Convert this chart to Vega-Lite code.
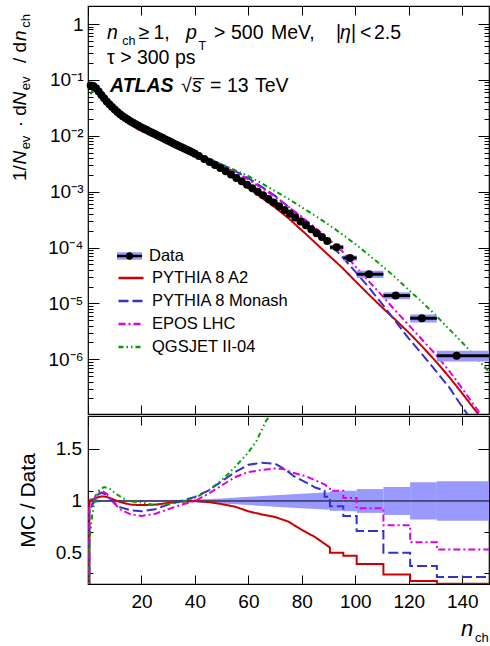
{
"$schema": "https://vega.github.io/schema/vega-lite/v6.json",
"background": "white",
"padding": {"left": 10, "top": 5, "right": 0, "bottom": 0},
"spacing": 0,
"config": {
  "font": "Liberation Sans",
  "view": {"stroke": "black", "strokeWidth": 1.2},
  "axis": {"labelFont": "Liberation Sans", "labelColor": "black", "titleColor": "black", "titleFont": "Liberation Sans", "domain": false, "ticks": false, "gridColor": "black", "gridOpacity": 1, "gridWidth": 1, "labelOverlap": false, "labelFlush": false, "labelBound": false},
  "legend": {"labelFont": "Liberation Sans", "labelColor": "black"}
},
"datasets": {
  "pts": [{"n":1,"y":0.0794},{"n":2,"y":0.0776},{"n":3,"y":0.0708},{"n":4,"y":0.0617},{"n":5,"y":0.0537},{"n":6,"y":0.0468},{"n":7,"y":0.0412},{"n":8,"y":0.0367},{"n":9,"y":0.0327},{"n":10,"y":0.0295},{"n":11,"y":0.0266},{"n":12,"y":0.0243},{"n":13,"y":0.0224},{"n":14,"y":0.0207},{"n":15,"y":0.0193},{"n":16,"y":0.018},{"n":17,"y":0.01687},{"n":18,"y":0.01585},{"n":19,"y":0.01496},{"n":20,"y":0.01413},{"n":21,"y":0.01337},{"n":22,"y":0.01265},{"n":23,"y":0.01197},{"n":24,"y":0.01132},{"n":25,"y":0.01072},{"n":26,"y":0.01014},{"n":27,"y":0.00959},{"n":28,"y":0.00908},{"n":29,"y":0.00859},{"n":30,"y":0.00813},{"n":31,"y":0.00771},{"n":32,"y":0.00731},{"n":33,"y":0.00693},{"n":34,"y":0.00658},{"n":35,"y":0.00624},{"n":36,"y":0.00592},{"n":37,"y":0.00561},{"n":38,"y":0.00532},{"n":39,"y":0.00505},{"n":40,"y":0.00479},{"n":41.5,"y":0.004358},{"n":43.5,"y":0.00385},{"n":45.5,"y":0.0034},{"n":47.5,"y":0.003003},{"n":49.5,"y":0.002652},{"n":51.5,"y":0.002317},{"n":53.5,"y":0.002018},{"n":55.5,"y":0.001758},{"n":57.5,"y":0.001531},{"n":59.5,"y":0.001334},{"n":61.5,"y":0.001153},{"n":63.5,"y":0.000995},{"n":65.5,"y":0.000859},{"n":67.5,"y":0.000741},{"n":69.5,"y":0.00064},{"n":71.5,"y":0.000548},{"n":73.5,"y":0.000469},{"n":75.5,"y":0.000401},{"n":77.5,"y":0.000343},{"n":79.5,"y":0.000293},{"n":81.5,"y":0.0002497},{"n":83.5,"y":0.0002126},{"n":85.5,"y":0.0001809},{"n":87.5,"y":0.000154},{"n":89.5,"y":0.0001311},{"n":93,"y":0.0001012},{"n":98,"y":0.0000652},{"n":105.1,"y":0.0000333},{"n":115.1,"y":0.0000138},{"n":124.9,"y":0.00000543},{"n":137.9,"y":0.00000116}],
  "wide": [{"n":93,"lo":90.5,"hi":95.5,"y":0.0001012,"ylo":0.000091,"yhi":0.000111,"rlo":0.905,"rhi":1.095},{"n":98,"lo":95.5,"hi":100.5,"y":0.0000652,"ylo":0.000058,"yhi":0.000072,"rlo":0.9,"rhi":1.1},{"n":105.1,"lo":100.5,"hi":110.5,"y":0.0000333,"ylo":0.0000285,"yhi":0.0000385,"rlo":0.885,"rhi":1.115},{"n":115.1,"lo":110.5,"hi":120.5,"y":0.0000138,"ylo":0.0000119,"yhi":0.0000158,"rlo":0.865,"rhi":1.135},{"n":124.9,"lo":120.5,"hi":130.5,"y":0.00000543,"ylo":0.00000455,"yhi":0.00000635,"rlo":0.82,"rhi":1.18},{"n":137.9,"lo":130.5,"hi":150.5,"y":0.00000116,"ylo":0.00000091,"yhi":0.00000142,"rlo":0.81,"rhi":1.19}],
  "band": [{"n":0.5,"lo":0.97,"hi":1.03},{"n":2.5,"lo":0.975,"hi":1.025},{"n":3.5,"lo":0.985,"hi":1.015},{"n":5,"lo":0.99,"hi":1.01},{"n":30,"lo":0.99,"hi":1.01},{"n":40,"lo":0.985,"hi":1.015},{"n":50,"lo":0.975,"hi":1.025},{"n":60,"lo":0.96,"hi":1.04},{"n":70,"lo":0.945,"hi":1.055},{"n":80,"lo":0.93,"hi":1.07},{"n":90.5,"lo":0.915,"hi":1.085}],
  "mc": [
    {"g":"PYTHIA 8 A2","n":1,"y":0.0794},{"g":"PYTHIA 8 A2","n":2,"y":0.0786},{"g":"PYTHIA 8 A2","n":4,"y":0.0642},{"g":"PYTHIA 8 A2","n":6,"y":0.0489},{"g":"PYTHIA 8 A2","n":10,"y":0.0296},{"g":"PYTHIA 8 A2","n":15,"y":0.0187},{"g":"PYTHIA 8 A2","n":20,"y":0.01356},{"g":"PYTHIA 8 A2","n":30,"y":0.00797},{"g":"PYTHIA 8 A2","n":40,"y":0.00479},{"g":"PYTHIA 8 A2","n":50,"y":0.00249},{"g":"PYTHIA 8 A2","n":55,"y":0.00172},{"g":"PYTHIA 8 A2","n":60,"y":0.00116},{"g":"PYTHIA 8 A2","n":65,"y":0.000775},{"g":"PYTHIA 8 A2","n":70,"y":0.000521},{"g":"PYTHIA 8 A2","n":75,"y":0.000334},{"g":"PYTHIA 8 A2","n":80,"y":0.000203},{"g":"PYTHIA 8 A2","n":85,"y":0.000122},{"g":"PYTHIA 8 A2","n":90,"y":0.000073},{"g":"PYTHIA 8 A2","n":95,"y":0.000044},{"g":"PYTHIA 8 A2","n":100,"y":0.0000251},{"g":"PYTHIA 8 A2","n":105,"y":0.0000145},{"g":"PYTHIA 8 A2","n":110,"y":0.0000085},{"g":"PYTHIA 8 A2","n":115,"y":0.0000051},{"g":"PYTHIA 8 A2","n":120,"y":0.000003},{"g":"PYTHIA 8 A2","n":125,"y":0.0000017},{"g":"PYTHIA 8 A2","n":130,"y":0.00000093},{"g":"PYTHIA 8 A2","n":135,"y":0.00000049},{"g":"PYTHIA 8 A2","n":140,"y":0.000000245},{"g":"PYTHIA 8 A2","n":145,"y":0.00000012},{"g":"PYTHIA 8 A2","n":150,"y":0.000000059},
    {"g":"PYTHIA 8 Monash","n":1,"y":0.0754},{"g":"PYTHIA 8 Monash","n":2,"y":0.076},{"g":"PYTHIA 8 Monash","n":4,"y":0.066},{"g":"PYTHIA 8 Monash","n":6,"y":0.0501},{"g":"PYTHIA 8 Monash","n":10,"y":0.0285},{"g":"PYTHIA 8 Monash","n":15,"y":0.01766},{"g":"PYTHIA 8 Monash","n":20,"y":0.01272},{"g":"PYTHIA 8 Monash","n":30,"y":0.00785},{"g":"PYTHIA 8 Monash","n":40,"y":0.00498},{"g":"PYTHIA 8 Monash","n":50,"y":0.00306},{"g":"PYTHIA 8 Monash","n":55,"y":0.00233},{"g":"PYTHIA 8 Monash","n":60,"y":0.00174},{"g":"PYTHIA 8 Monash","n":65,"y":0.00122},{"g":"PYTHIA 8 Monash","n":70,"y":0.000839},{"g":"PYTHIA 8 Monash","n":75,"y":0.000534},{"g":"PYTHIA 8 Monash","n":80,"y":0.000338},{"g":"PYTHIA 8 Monash","n":85,"y":0.000212},{"g":"PYTHIA 8 Monash","n":90,"y":0.000125},{"g":"PYTHIA 8 Monash","n":95,"y":0.000069},{"g":"PYTHIA 8 Monash","n":100,"y":0.000037},{"g":"PYTHIA 8 Monash","n":105,"y":0.0000195},{"g":"PYTHIA 8 Monash","n":110,"y":0.0000098},{"g":"PYTHIA 8 Monash","n":115,"y":0.0000048},{"g":"PYTHIA 8 Monash","n":120,"y":0.00000235},{"g":"PYTHIA 8 Monash","n":125,"y":0.00000123},{"g":"PYTHIA 8 Monash","n":130,"y":0.00000063},{"g":"PYTHIA 8 Monash","n":135,"y":0.00000032},{"g":"PYTHIA 8 Monash","n":140,"y":0.00000014},{"g":"PYTHIA 8 Monash","n":145,"y":0.000000065},{"g":"PYTHIA 8 Monash","n":150,"y":0.00000003},
    {"g":"EPOS LHC","n":1,"y":0.0762},{"g":"EPOS LHC","n":2,"y":0.0776},{"g":"EPOS LHC","n":4,"y":0.0666},{"g":"EPOS LHC","n":6,"y":0.051},{"g":"EPOS LHC","n":10,"y":0.0286},{"g":"EPOS LHC","n":15,"y":0.017},{"g":"EPOS LHC","n":20,"y":0.01208},{"g":"EPOS LHC","n":30,"y":0.00748},{"g":"EPOS LHC","n":40,"y":0.00479},{"g":"EPOS LHC","n":50,"y":0.00296},{"g":"EPOS LHC","n":55,"y":0.00224},{"g":"EPOS LHC","n":60,"y":0.00165},{"g":"EPOS LHC","n":65,"y":0.00116},{"g":"EPOS LHC","n":70,"y":0.000811},{"g":"EPOS LHC","n":75,"y":0.000538},{"g":"EPOS LHC","n":80,"y":0.000353},{"g":"EPOS LHC","n":85,"y":0.000226},{"g":"EPOS LHC","n":90,"y":0.000141},{"g":"EPOS LHC","n":95,"y":0.000087},{"g":"EPOS LHC","n":100,"y":0.000046},{"g":"EPOS LHC","n":105,"y":0.000025},{"g":"EPOS LHC","n":110,"y":0.0000138},{"g":"EPOS LHC","n":115,"y":0.0000074},{"g":"EPOS LHC","n":120,"y":0.0000041},{"g":"EPOS LHC","n":125,"y":0.00000224},{"g":"EPOS LHC","n":130,"y":0.00000123},{"g":"EPOS LHC","n":135,"y":0.00000063},{"g":"EPOS LHC","n":140,"y":0.0000003},{"g":"EPOS LHC","n":145,"y":0.000000138},{"g":"EPOS LHC","n":150,"y":0.000000063},
    {"g":"QGSJET II-04","n":1,"y":0.055},{"g":"QGSJET II-04","n":2,"y":0.0714},{"g":"QGSJET II-04","n":4,"y":0.0679},{"g":"QGSJET II-04","n":6,"y":0.0531},{"g":"QGSJET II-04","n":10,"y":0.0319},{"g":"QGSJET II-04","n":15,"y":0.0193},{"g":"QGSJET II-04","n":20,"y":0.01392},{"g":"QGSJET II-04","n":30,"y":0.00789},{"g":"QGSJET II-04","n":40,"y":0.00493},{"g":"QGSJET II-04","n":50,"y":0.00308},{"g":"QGSJET II-04","n":55,"y":0.00242},{"g":"QGSJET II-04","n":60,"y":0.0019},{"g":"QGSJET II-04","n":65,"y":0.00141},{"g":"QGSJET II-04","n":70,"y":0.00102},{"g":"QGSJET II-04","n":75,"y":0.00074},{"g":"QGSJET II-04","n":80,"y":0.000525},{"g":"QGSJET II-04","n":85,"y":0.00037},{"g":"QGSJET II-04","n":90,"y":0.000257},{"g":"QGSJET II-04","n":95,"y":0.000174},{"g":"QGSJET II-04","n":100,"y":0.000115},{"g":"QGSJET II-04","n":105,"y":0.000074},{"g":"QGSJET II-04","n":110,"y":0.000047},{"g":"QGSJET II-04","n":115,"y":0.000029},{"g":"QGSJET II-04","n":120,"y":0.0000174},{"g":"QGSJET II-04","n":125,"y":0.0000105},{"g":"QGSJET II-04","n":130,"y":0.0000062},{"g":"QGSJET II-04","n":135,"y":0.0000035},{"g":"QGSJET II-04","n":140,"y":0.000002},{"g":"QGSJET II-04","n":145,"y":0.0000011},{"g":"QGSJET II-04","n":150,"y":0.0000006}
  ],
  "ratio": [
    {"g":"PYTHIA 8 A2","n":0.5,"r":0},{"g":"PYTHIA 8 A2","n":0.5,"r":1.0},{"g":"PYTHIA 8 A2","n":1.5,"r":1.01},{"g":"PYTHIA 8 A2","n":3,"r":1.03},{"g":"PYTHIA 8 A2","n":5,"r":1.045},{"g":"PYTHIA 8 A2","n":7,"r":1.04},{"g":"PYTHIA 8 A2","n":9,"r":1.02},{"g":"PYTHIA 8 A2","n":12,"r":0.99},{"g":"PYTHIA 8 A2","n":16,"r":0.965},{"g":"PYTHIA 8 A2","n":20,"r":0.96},{"g":"PYTHIA 8 A2","n":25,"r":0.965},{"g":"PYTHIA 8 A2","n":30,"r":0.98},{"g":"PYTHIA 8 A2","n":35,"r":0.995},{"g":"PYTHIA 8 A2","n":40,"r":1.0},{"g":"PYTHIA 8 A2","n":45,"r":0.99},{"g":"PYTHIA 8 A2","n":50,"r":0.97},{"g":"PYTHIA 8 A2","n":55,"r":0.945},{"g":"PYTHIA 8 A2","n":60,"r":0.9},{"g":"PYTHIA 8 A2","n":65,"r":0.87},{"g":"PYTHIA 8 A2","n":70,"r":0.845},{"g":"PYTHIA 8 A2","n":75,"r":0.8},{"g":"PYTHIA 8 A2","n":80,"r":0.72},{"g":"PYTHIA 8 A2","n":85,"r":0.65},{"g":"PYTHIA 8 A2","n":90.5,"r":0.55},{"g":"PYTHIA 8 A2","n":90.5,"r":0.5},{"g":"PYTHIA 8 A2","n":95.5,"r":0.5},{"g":"PYTHIA 8 A2","n":95.5,"r":0.47},{"g":"PYTHIA 8 A2","n":100.5,"r":0.47},{"g":"PYTHIA 8 A2","n":100.5,"r":0.39},{"g":"PYTHIA 8 A2","n":110.5,"r":0.39},{"g":"PYTHIA 8 A2","n":110.5,"r":0.29},{"g":"PYTHIA 8 A2","n":120.5,"r":0.29},{"g":"PYTHIA 8 A2","n":120.5,"r":0.225},{"g":"PYTHIA 8 A2","n":130.5,"r":0.225},{"g":"PYTHIA 8 A2","n":130.5,"r":0.2},{"g":"PYTHIA 8 A2","n":150.5,"r":0.2},
    {"g":"PYTHIA 8 Monash","n":0.5,"r":0},{"g":"PYTHIA 8 Monash","n":0.5,"r":0.93},{"g":"PYTHIA 8 Monash","n":1.5,"r":0.95},{"g":"PYTHIA 8 Monash","n":3,"r":1.05},{"g":"PYTHIA 8 Monash","n":5,"r":1.08},{"g":"PYTHIA 8 Monash","n":7,"r":1.06},{"g":"PYTHIA 8 Monash","n":9,"r":1.0},{"g":"PYTHIA 8 Monash","n":12,"r":0.94},{"g":"PYTHIA 8 Monash","n":16,"r":0.91},{"g":"PYTHIA 8 Monash","n":20,"r":0.9},{"g":"PYTHIA 8 Monash","n":25,"r":0.92},{"g":"PYTHIA 8 Monash","n":30,"r":0.965},{"g":"PYTHIA 8 Monash","n":35,"r":1.0},{"g":"PYTHIA 8 Monash","n":40,"r":1.04},{"g":"PYTHIA 8 Monash","n":45,"r":1.1},{"g":"PYTHIA 8 Monash","n":50,"r":1.19},{"g":"PYTHIA 8 Monash","n":55,"r":1.28},{"g":"PYTHIA 8 Monash","n":60,"r":1.35},{"g":"PYTHIA 8 Monash","n":65,"r":1.37},{"g":"PYTHIA 8 Monash","n":70,"r":1.36},{"g":"PYTHIA 8 Monash","n":74,"r":1.3},{"g":"PYTHIA 8 Monash","n":77,"r":1.24},{"g":"PYTHIA 8 Monash","n":81.5,"r":1.18},{"g":"PYTHIA 8 Monash","n":85,"r":1.13},{"g":"PYTHIA 8 Monash","n":88.5,"r":1.1},{"g":"PYTHIA 8 Monash","n":88.5,"r":1.04},{"g":"PYTHIA 8 Monash","n":90.5,"r":1.04},{"g":"PYTHIA 8 Monash","n":90.5,"r":0.95},{"g":"PYTHIA 8 Monash","n":95.5,"r":0.95},{"g":"PYTHIA 8 Monash","n":95.5,"r":0.855},{"g":"PYTHIA 8 Monash","n":100.5,"r":0.855},{"g":"PYTHIA 8 Monash","n":100.5,"r":0.71},{"g":"PYTHIA 8 Monash","n":110.5,"r":0.71},{"g":"PYTHIA 8 Monash","n":110.5,"r":0.5},{"g":"PYTHIA 8 Monash","n":120.5,"r":0.5},{"g":"PYTHIA 8 Monash","n":120.5,"r":0.372},{"g":"PYTHIA 8 Monash","n":130.5,"r":0.372},{"g":"PYTHIA 8 Monash","n":130.5,"r":0.265},{"g":"PYTHIA 8 Monash","n":150.5,"r":0.265},
    {"g":"EPOS LHC","n":0.5,"r":0},{"g":"EPOS LHC","n":0.5,"r":0.95},{"g":"EPOS LHC","n":1.5,"r":0.97},{"g":"EPOS LHC","n":3,"r":1.06},{"g":"EPOS LHC","n":5,"r":1.1},{"g":"EPOS LHC","n":7,"r":1.07},{"g":"EPOS LHC","n":9,"r":1.0},{"g":"EPOS LHC","n":12,"r":0.92},{"g":"EPOS LHC","n":16,"r":0.87},{"g":"EPOS LHC","n":20,"r":0.855},{"g":"EPOS LHC","n":25,"r":0.875},{"g":"EPOS LHC","n":30,"r":0.92},{"g":"EPOS LHC","n":35,"r":0.965},{"g":"EPOS LHC","n":40,"r":1.0},{"g":"EPOS LHC","n":45,"r":1.07},{"g":"EPOS LHC","n":50,"r":1.15},{"g":"EPOS LHC","n":55,"r":1.23},{"g":"EPOS LHC","n":60,"r":1.28},{"g":"EPOS LHC","n":65,"r":1.3},{"g":"EPOS LHC","n":70,"r":1.315},{"g":"EPOS LHC","n":73,"r":1.31},{"g":"EPOS LHC","n":77,"r":1.27},{"g":"EPOS LHC","n":81.5,"r":1.24},{"g":"EPOS LHC","n":85,"r":1.2},{"g":"EPOS LHC","n":88.5,"r":1.16},{"g":"EPOS LHC","n":90.5,"r":1.12},{"g":"EPOS LHC","n":90.5,"r":1.1},{"g":"EPOS LHC","n":95.5,"r":1.1},{"g":"EPOS LHC","n":95.5,"r":1.03},{"g":"EPOS LHC","n":100.5,"r":1.03},{"g":"EPOS LHC","n":100.5,"r":0.93},{"g":"EPOS LHC","n":110.5,"r":0.93},{"g":"EPOS LHC","n":110.5,"r":0.765},{"g":"EPOS LHC","n":120.5,"r":0.765},{"g":"EPOS LHC","n":120.5,"r":0.6},{"g":"EPOS LHC","n":130.5,"r":0.6},{"g":"EPOS LHC","n":130.5,"r":0.53},{"g":"EPOS LHC","n":150.5,"r":0.53},
    {"g":"QGSJET II-04","n":0.5,"r":0},{"g":"QGSJET II-04","n":0.5,"r":0.6},{"g":"QGSJET II-04","n":1.5,"r":0.85},{"g":"QGSJET II-04","n":2.5,"r":1.0},{"g":"QGSJET II-04","n":4,"r":1.1},{"g":"QGSJET II-04","n":6,"r":1.135},{"g":"QGSJET II-04","n":8,"r":1.12},{"g":"QGSJET II-04","n":11,"r":1.06},{"g":"QGSJET II-04","n":15,"r":1.0},{"g":"QGSJET II-04","n":20,"r":0.985},{"g":"QGSJET II-04","n":25,"r":0.96},{"g":"QGSJET II-04","n":30,"r":0.97},{"g":"QGSJET II-04","n":35,"r":0.99},{"g":"QGSJET II-04","n":40,"r":1.03},{"g":"QGSJET II-04","n":45,"r":1.1},{"g":"QGSJET II-04","n":50,"r":1.2},{"g":"QGSJET II-04","n":55,"r":1.33},{"g":"QGSJET II-04","n":60,"r":1.47},{"g":"QGSJET II-04","n":63,"r":1.58},{"g":"QGSJET II-04","n":66.5,"r":1.77},{"g":"QGSJET II-04","n":69,"r":1.86},{"g":"QGSJET II-04","n":72,"r":2.0}
  ]
},
"vconcat": [
  {
    "width": 401, "height": 408,
    "layer": [
      {"data": {"name": "mc"}, "mark": {"type": "line", "clip": true, "strokeWidth": 2},
       "encoding": {
         "x": {"field": "n", "type": "quantitative", "scale": {"domain": [0, 150], "nice": false, "zero": false},
               "axis": {"title": null, "labels": false, "grid": true, "labelOverlap": false, "values": [0,5,10,15,20,25,30,35,40,45,50,55,60,65,70,75,80,85,90,95,100,105,110,115,120,125,130,135,140,145,150],
                        "gridDash": {"condition": {"test": "datum.value % 20 === 0", "value": [9, 390, 9, 1000]}, "value": [5, 398, 5, 1000]}}},
         "y": {"field": "y", "type": "quantitative", "scale": {"type": "log", "domain": [1.05e-7, 2.1], "nice": false},
               "axis": {"title": null, "grid": true, "labelPadding": 5, "labelOverlap": false,
                        "labelFontSize": {"condition": {"test": "indexof([0.000001,0.00001,0.0001,0.001,0.01,0.1,1], datum.value) >= 0", "value": 19}, "value": 1},
                        "values": [2e-7,3e-7,4e-7,5e-7,6e-7,7e-7,8e-7,9e-7,1e-6,2e-6,3e-6,4e-6,5e-6,6e-6,7e-6,8e-6,9e-6,1e-5,2e-5,3e-5,4e-5,5e-5,6e-5,7e-5,8e-5,9e-5,0.0001,0.0002,0.0003,0.0004,0.0005,0.0006,0.0007,0.0008,0.0009,0.001,0.002,0.003,0.004,0.005,0.006,0.007,0.008,0.009,0.01,0.02,0.03,0.04,0.05,0.06,0.07,0.08,0.09,0.1,0.2,0.3,0.4,0.5,0.6,0.7,0.8,0.9,1],
                        "gridDash": {"condition": {"test": "indexof([0.000001,0.00001,0.0001,0.001,0.01,0.1,1], datum.value) >= 0", "value": [11, 379, 11, 1000]}, "value": [5, 391, 5, 1000]},
                        "labelExpr": "datum.value === 1 ? '1' : datum.value === 0.1 ? '10⁻¹' : datum.value === 0.01 ? '10⁻²' : datum.value === 0.001 ? '10⁻³' : datum.value === 0.0001 ? '10⁻⁴' : datum.value === 0.00001 ? '10⁻⁵' : datum.value === 0.000001 ? '10⁻⁶' : ''"}},
         "stroke": {"field": "g", "type": "nominal", "scale": {"domain": ["PYTHIA 8 A2", "PYTHIA 8 Monash", "EPOS LHC", "QGSJET II-04"], "range": ["#cc0000", "#3333cc", "#e000e0", "#00a000"]},
                    "legend": {"orient": "none", "legendX": 29, "legendY": 258, "title": null, "symbolType": "stroke", "symbolSize": 625, "symbolStrokeWidth": 2.5, "labelFontSize": 16.5, "labelOffset": 7, "rowPadding": -6.5, "padding": 0}},
         "strokeDash": {"field": "g", "type": "nominal", "scale": {"domain": ["PYTHIA 8 A2", "PYTHIA 8 Monash", "EPOS LHC", "QGSJET II-04"], "range": [[1, 0], [10, 4], [7, 3, 2, 3], [5, 3, 1.5, 3, 1.5, 3]]},
                    "legend": {"orient": "none", "legendX": 29, "legendY": 258, "title": null, "symbolType": "stroke", "symbolSize": 625, "symbolStrokeWidth": 2.5, "labelFontSize": 16.5, "labelOffset": 7, "rowPadding": -6.5, "padding": 0}}
       }},
      {"data": {"name": "wide"}, "mark": {"type": "rect", "clip": true},
       "encoding": {
         "x": {"field": "lo", "type": "quantitative"}, "x2": {"field": "hi"},
         "y": {"field": "ylo", "type": "quantitative"}, "y2": {"field": "yhi"},
         "fill": {"datum": "band", "type": "nominal", "scale": {"range": ["#9999ff"]},
                  "legend": {"orient": "none", "legendX": 29, "legendY": 237.5, "title": null, "symbolType": "M-1,-0.3H1V0.3H-1Z", "symbolSize": 625, "symbolStrokeWidth": 0, "labelFontSize": 16.5, "labelOffset": 7, "labelExpr": "''", "padding": 0}}
       }},
      {"data": {"name": "wide"}, "mark": {"type": "rule", "clip": true, "color": "black", "strokeWidth": 3},
       "encoding": {
         "x": {"field": "lo", "type": "quantitative"}, "x2": {"field": "hi"},
         "y": {"field": "y", "type": "quantitative"}
       }},
      {"data": {"name": "pts"}, "mark": {"type": "point", "filled": true, "size": 64, "color": "black"},
       "encoding": {
         "x": {"field": "n", "type": "quantitative"},
         "y": {"field": "y", "type": "quantitative"},
         "opacity": {"datum": "Data", "type": "nominal", "scale": {"range": [1]},
                     "legend": {"orient": "none", "legendX": 29, "legendY": 237.5, "title": null, "symbolType": "M-1,-0.1H1V0.1H-1Z M0.3,0A0.3,0.3 0 1,1 -0.3,0A0.3,0.3 0 1,1 0.3,0Z", "symbolSize": 625, "symbolFillColor": "black", "symbolStrokeWidth": 0, "labelFontSize": 16.5, "labelOffset": 7, "padding": 0}}
       }},
      {"data": {"values": [{"t": "≥", "n": 18.9, "v": 0.539}, {"t": "1,", "n": 24.5, "v": 0.539}, {"t": ">", "n": 47.13, "v": 0.539}, {"t": "500", "n": 53.5, "v": 0.539}, {"t": "MeV,", "n": 68.45, "v": 0.539}, {"t": "|", "n": 92.77, "v": 0.539}, {"t": "|", "n": 98.38, "v": 0.539}, {"t": "<", "n": 101.75, "v": 0.539}, {"t": "2.5", "n": 106.99, "v": 0.539}, {"t": "τ > 300 ps", "n": 7.11, "v": 0.1924}, {"t": "√", "n": 34.79, "v": 0.0607}, {"t": "=", "n": 45.64, "v": 0.0607}, {"t": "13", "n": 52.0, "v": 0.0607}, {"t": "TeV", "n": 62.47, "v": 0.0607}]},
       "mark": {"type": "text", "align": "left", "baseline": "alphabetic", "fontSize": 19.5, "color": "black"},
       "encoding": {"x": {"field": "n", "type": "quantitative"}, "y": {"field": "v", "type": "quantitative"}, "text": {"field": "t"}}},
      {"data": {"values": [{"t": "n", "n": 7.11, "v": 0.539}, {"t": "p", "n": 36.66, "v": 0.539}, {"t": "η", "n": 94.26, "v": 0.539}, {"t": "s̅", "n": 38.9, "v": 0.0607}]},
       "mark": {"type": "text", "align": "left", "baseline": "alphabetic", "fontSize": 19.5, "fontStyle": "italic", "color": "black"},
       "encoding": {"x": {"field": "n", "type": "quantitative"}, "y": {"field": "v", "type": "quantitative"}, "text": {"field": "t"}}},
      {"data": {"values": [{"t": "ch", "n": 12.8, "v": 0.421}, {"t": "T", "n": 41.3, "v": 0.3425}]},
       "mark": {"type": "text", "align": "left", "baseline": "alphabetic", "fontSize": 12.5, "color": "black"},
       "encoding": {"x": {"field": "n", "type": "quantitative"}, "y": {"field": "v", "type": "quantitative"}, "text": {"field": "t"}}},
      {"data": {"values": [{"t": "ATLAS", "n": 8.23, "v": 0.0607}]},
       "mark": {"type": "text", "align": "left", "baseline": "alphabetic", "fontSize": 19.5, "fontStyle": "italic", "fontWeight": "bold", "color": "black"},
       "encoding": {"x": {"field": "n", "type": "quantitative"}, "y": {"field": "v", "type": "quantitative"}, "text": {"field": "t"}}},
      {"data": {"values": [{"t": "1/", "n": -23.2, "v": 0.00155}, {"t": "· d", "n": -23.2, "v": 0.0142}, {"t": "/ d", "n": -23.2, "v": 0.2005}]},
       "mark": {"type": "text", "align": "left", "baseline": "alphabetic", "angle": 270, "fontSize": 19, "color": "black"},
       "encoding": {"x": {"field": "n", "type": "quantitative"}, "y": {"field": "v", "type": "quantitative"}, "text": {"field": "t"}}},
      {"data": {"values": [{"t": "N", "n": -23.2, "v": 0.00306}, {"t": "N", "n": -23.2, "v": 0.0347}, {"t": "n", "n": -23.2, "v": 0.497}]},
       "mark": {"type": "text", "align": "left", "baseline": "alphabetic", "angle": 270, "fontSize": 19, "fontStyle": "italic", "color": "black"},
       "encoding": {"x": {"field": "n", "type": "quantitative"}, "y": {"field": "v", "type": "quantitative"}, "text": {"field": "t"}}},
      {"data": {"values": [{"t": "ev", "n": -21.7, "v": 0.00571}, {"t": "ev", "n": -21.7, "v": 0.0651}, {"t": "ch", "n": -21.7, "v": 0.86}]},
       "mark": {"type": "text", "align": "left", "baseline": "alphabetic", "angle": 270, "fontSize": 13, "color": "black"},
       "encoding": {"x": {"field": "n", "type": "quantitative"}, "y": {"field": "v", "type": "quantitative"}, "text": {"field": "t"}}}
    ]
  },
  {
    "width": 401, "height": 168,
    "layer": [
      {"data": {"name": "band"}, "mark": {"type": "area", "color": "#9999ff", "clip": true},
       "encoding": {
         "x": {"field": "n", "type": "quantitative", "scale": {"domain": [0, 150], "nice": false, "zero": false},
               "axis": {"title": null, "grid": true, "labelPadding": 8, "labelOverlap": false, "values": [0,5,10,15,20,25,30,35,40,45,50,55,60,65,70,75,80,85,90,95,100,105,110,115,120,125,130,135,140,145,150],
                        "labelFontSize": {"condition": {"test": "datum.value % 20 === 0", "value": 19}, "value": 1},
                        "gridDash": {"condition": {"test": "datum.value % 20 === 0", "value": [9, 150, 9, 1000]}, "value": [5, 158, 5, 1000]},
                        "labelExpr": "datum.value % 20 === 0 && datum.value > 0 ? datum.label : ''"}},
         "y": {"field": "lo", "type": "quantitative", "scale": {"domain": [0.197, 1.822], "nice": false, "zero": false},
               "axis": {"title": "MC / Data", "titleFontSize": 21, "titleFontWeight": "normal", "titlePadding": 50, "grid": true, "labels": false,
                        "values": [0.3,0.4,0.5,0.6,0.7,0.8,0.9,1,1.1,1.2,1.3,1.4,1.5,1.6,1.7,1.8],
                        "gridDash": {"condition": {"test": "abs(datum.value - 0.5) < 0.01 || abs(datum.value - 1) < 0.01 || abs(datum.value - 1.5) < 0.01", "value": [11, 379, 11, 1000]}, "value": [5, 391, 5, 1000]}}},
         "y2": {"field": "hi"}
       }},
      {"data": {"name": "wide"}, "mark": {"type": "rect", "color": "#9999ff", "clip": true},
       "encoding": {
         "x": {"field": "lo", "type": "quantitative"}, "x2": {"field": "hi"},
         "y": {"field": "rlo", "type": "quantitative"}, "y2": {"field": "rhi"}
       }},
      {"data": {"values": [{}]}, "mark": {"type": "rule", "color": "black", "strokeWidth": 1},
       "encoding": {"y": {"datum": 1}}},
      {"data": {"name": "ratio"}, "mark": {"type": "line", "clip": true, "strokeWidth": 2},
       "encoding": {
         "x": {"field": "n", "type": "quantitative"},
         "y": {"field": "r", "type": "quantitative"},
         "stroke": {"field": "g", "type": "nominal", "scale": {"domain": ["PYTHIA 8 A2", "PYTHIA 8 Monash", "EPOS LHC", "QGSJET II-04"], "range": ["#cc0000", "#3333cc", "#e000e0", "#00a000"]}, "legend": null},
         "strokeDash": {"field": "g", "type": "nominal", "scale": {"domain": ["PYTHIA 8 A2", "PYTHIA 8 Monash", "EPOS LHC", "QGSJET II-04"], "range": [[1, 0], [10, 4], [7, 3, 2, 3], [5, 3, 1.5, 3, 1.5, 3]]}, "legend": null}
       }},
      {"data": {"values": [{"t": "0.5", "n": -2.2, "v": 0.5}, {"t": "1", "n": -2.2, "v": 1}, {"t": "1.5", "n": -2.2, "v": 1.5}]},
       "mark": {"type": "text", "align": "right", "baseline": "middle", "fontSize": 19, "color": "black"},
       "encoding": {"x": {"field": "n", "type": "quantitative"}, "y": {"field": "v", "type": "quantitative"}, "text": {"field": "t"}}},
      {"data": {"values": [{"t": "n", "n": 139.5, "v": -0.306}]},
       "mark": {"type": "text", "align": "left", "baseline": "alphabetic", "fontSize": 22, "fontStyle": "italic", "color": "black"},
       "encoding": {"x": {"field": "n", "type": "quantitative"}, "y": {"field": "v", "type": "quantitative"}, "text": {"field": "t"}}},
      {"data": {"values": [{"t": "ch", "n": 144.8, "v": -0.364}]},
       "mark": {"type": "text", "align": "left", "baseline": "alphabetic", "fontSize": 13, "color": "black"},
       "encoding": {"x": {"field": "n", "type": "quantitative"}, "y": {"field": "v", "type": "quantitative"}, "text": {"field": "t"}}}
    ]
  }
]
}
